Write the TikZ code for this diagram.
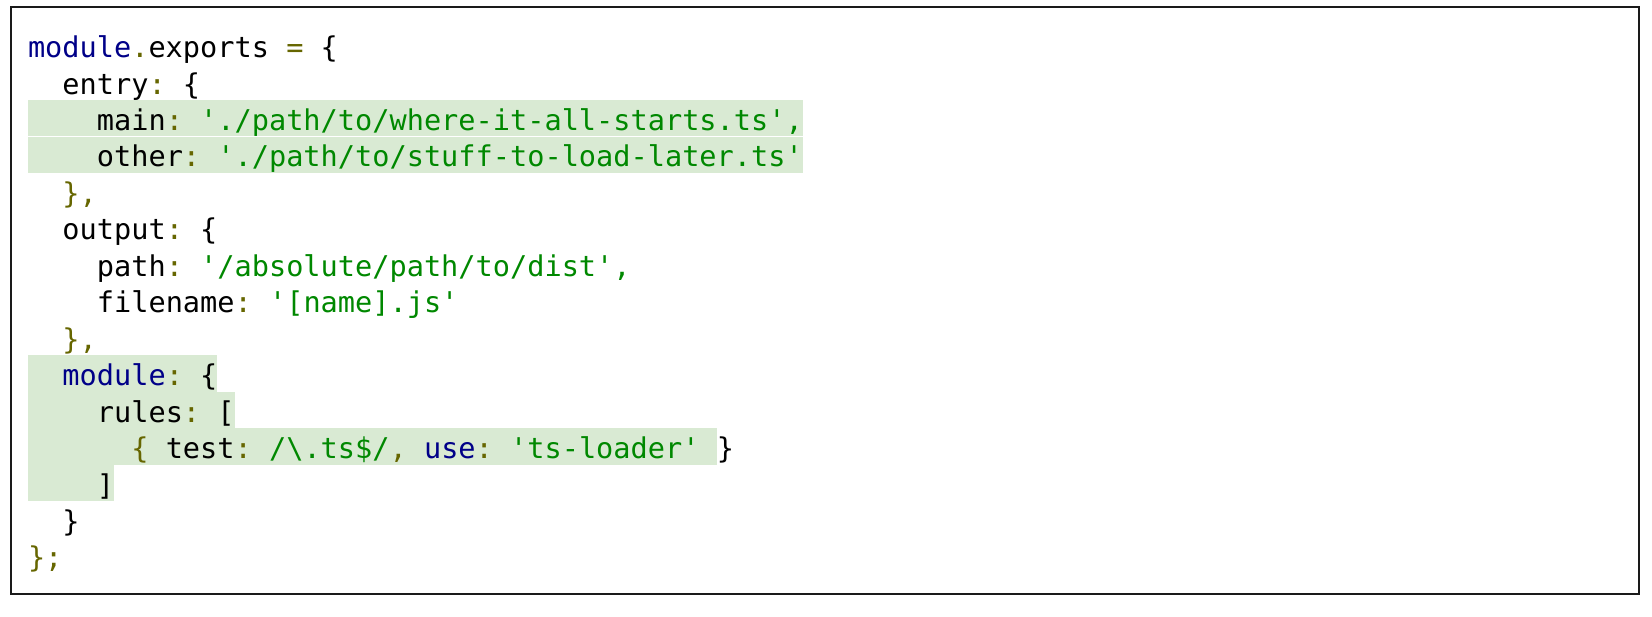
\documentclass[tikz,border=0pt]{standalone}
\usepackage{fontspec}
\newfontfamily\codefont{DejaVu Sans Mono}
\definecolor{hlgreen}{HTML}{D9EAD3}
\definecolor{strgreen}{HTML}{008800}
\definecolor{kwdblue}{HTML}{000088}
\definecolor{punolive}{HTML}{666600}
\definecolor{framegray}{HTML}{1A1A1A}
\newcommand{\kw}[1]{\textcolor{kwdblue}{#1}}
\newcommand{\st}[1]{\textcolor{strgreen}{#1}}
\newcommand{\pu}[1]{\textcolor{punolive}{#1}}
\frenchspacing
\begin{document}
\begin{tikzpicture}[x=0.5pt,y=-0.5pt,
  codeline/.style={anchor=base west,inner sep=0pt,outer sep=0pt,
    font=\codefont\fontsize{14.3pt}{17pt}\selectfont},
  hlrow/.style={fill=hlgreen,draw=none},
  framebox/.style={draw=framegray,line width=1pt}]
\useasboundingbox (0,0) rectangle (1652,616);
\pgfmathsetmacro{\cw}{17.22}
\pgfmathsetmacro{\xo}{28}
% highlighted rows: top = 27.1 + 36.45 i
\foreach \i/\n in {2/45,3/45,9/11,10/12,11/40,12/5}{
  \fill[hlgreen] (\xo,{27.1+36.45*\i+0.3}) rectangle ({\xo+\n*\cw},{27.1+36.45*(\i+1)});
}
% frame
\draw[framebox] (11,7) rectangle (1639,594);
% code lines: baseline = 57.6 + 36.45 i
\node[codeline] (l0)  at ({\xo+0*\cw},{57.6+36.45*0})  {\kw{module}\pu{.}exports \pu{=} \{};
\node[codeline] (l1)  at ({\xo+2*\cw},{57.6+36.45*1})  {entry\pu{:} \{};
\node[codeline] (l2)  at ({\xo+4*\cw},{57.6+36.45*2})  {main\pu{:} \st{'./path/to/where-it-all-starts.ts',}};
\node[codeline] (l3)  at ({\xo+4*\cw},{57.6+36.45*3})  {other\pu{:} \st{'./path/to/stuff-to-load-later.ts'}};
\node[codeline] (l4)  at ({\xo+2*\cw},{57.6+36.45*4})  {\pu{\},}};
\node[codeline] (l5)  at ({\xo+2*\cw},{57.6+36.45*5})  {output\pu{:} \{};
\node[codeline] (l6)  at ({\xo+4*\cw},{57.6+36.45*6})  {path\pu{:} \st{'/absolute/path/to/dist',}};
\node[codeline] (l7)  at ({\xo+4*\cw},{57.6+36.45*7})  {filename\pu{:} \st{'[name].js'}};
\node[codeline] (l8)  at ({\xo+2*\cw},{57.6+36.45*8})  {\pu{\},}};
\node[codeline] (l9)  at ({\xo+2*\cw},{57.6+36.45*9})  {\kw{module}\pu{:} \{};
\node[codeline] (l10) at ({\xo+4*\cw},{57.6+36.45*10}) {rules\pu{:} [};
\node[codeline] (l11) at ({\xo+6*\cw},{57.6+36.45*11}) {\pu{\{} test\pu{:} \st{/\textbackslash.ts\$/}\pu{,} \kw{use}\pu{:} \st{'ts-loader'} \}};
\node[codeline] (l12) at ({\xo+4*\cw},{57.6+36.45*12}) {]};
\node[codeline] (l13) at ({\xo+2*\cw},{57.6+36.45*13}) {\}};
\node[codeline] (l14) at ({\xo+0*\cw},{57.6+36.45*14}) {\pu{\};}};
\end{tikzpicture}
\end{document}
